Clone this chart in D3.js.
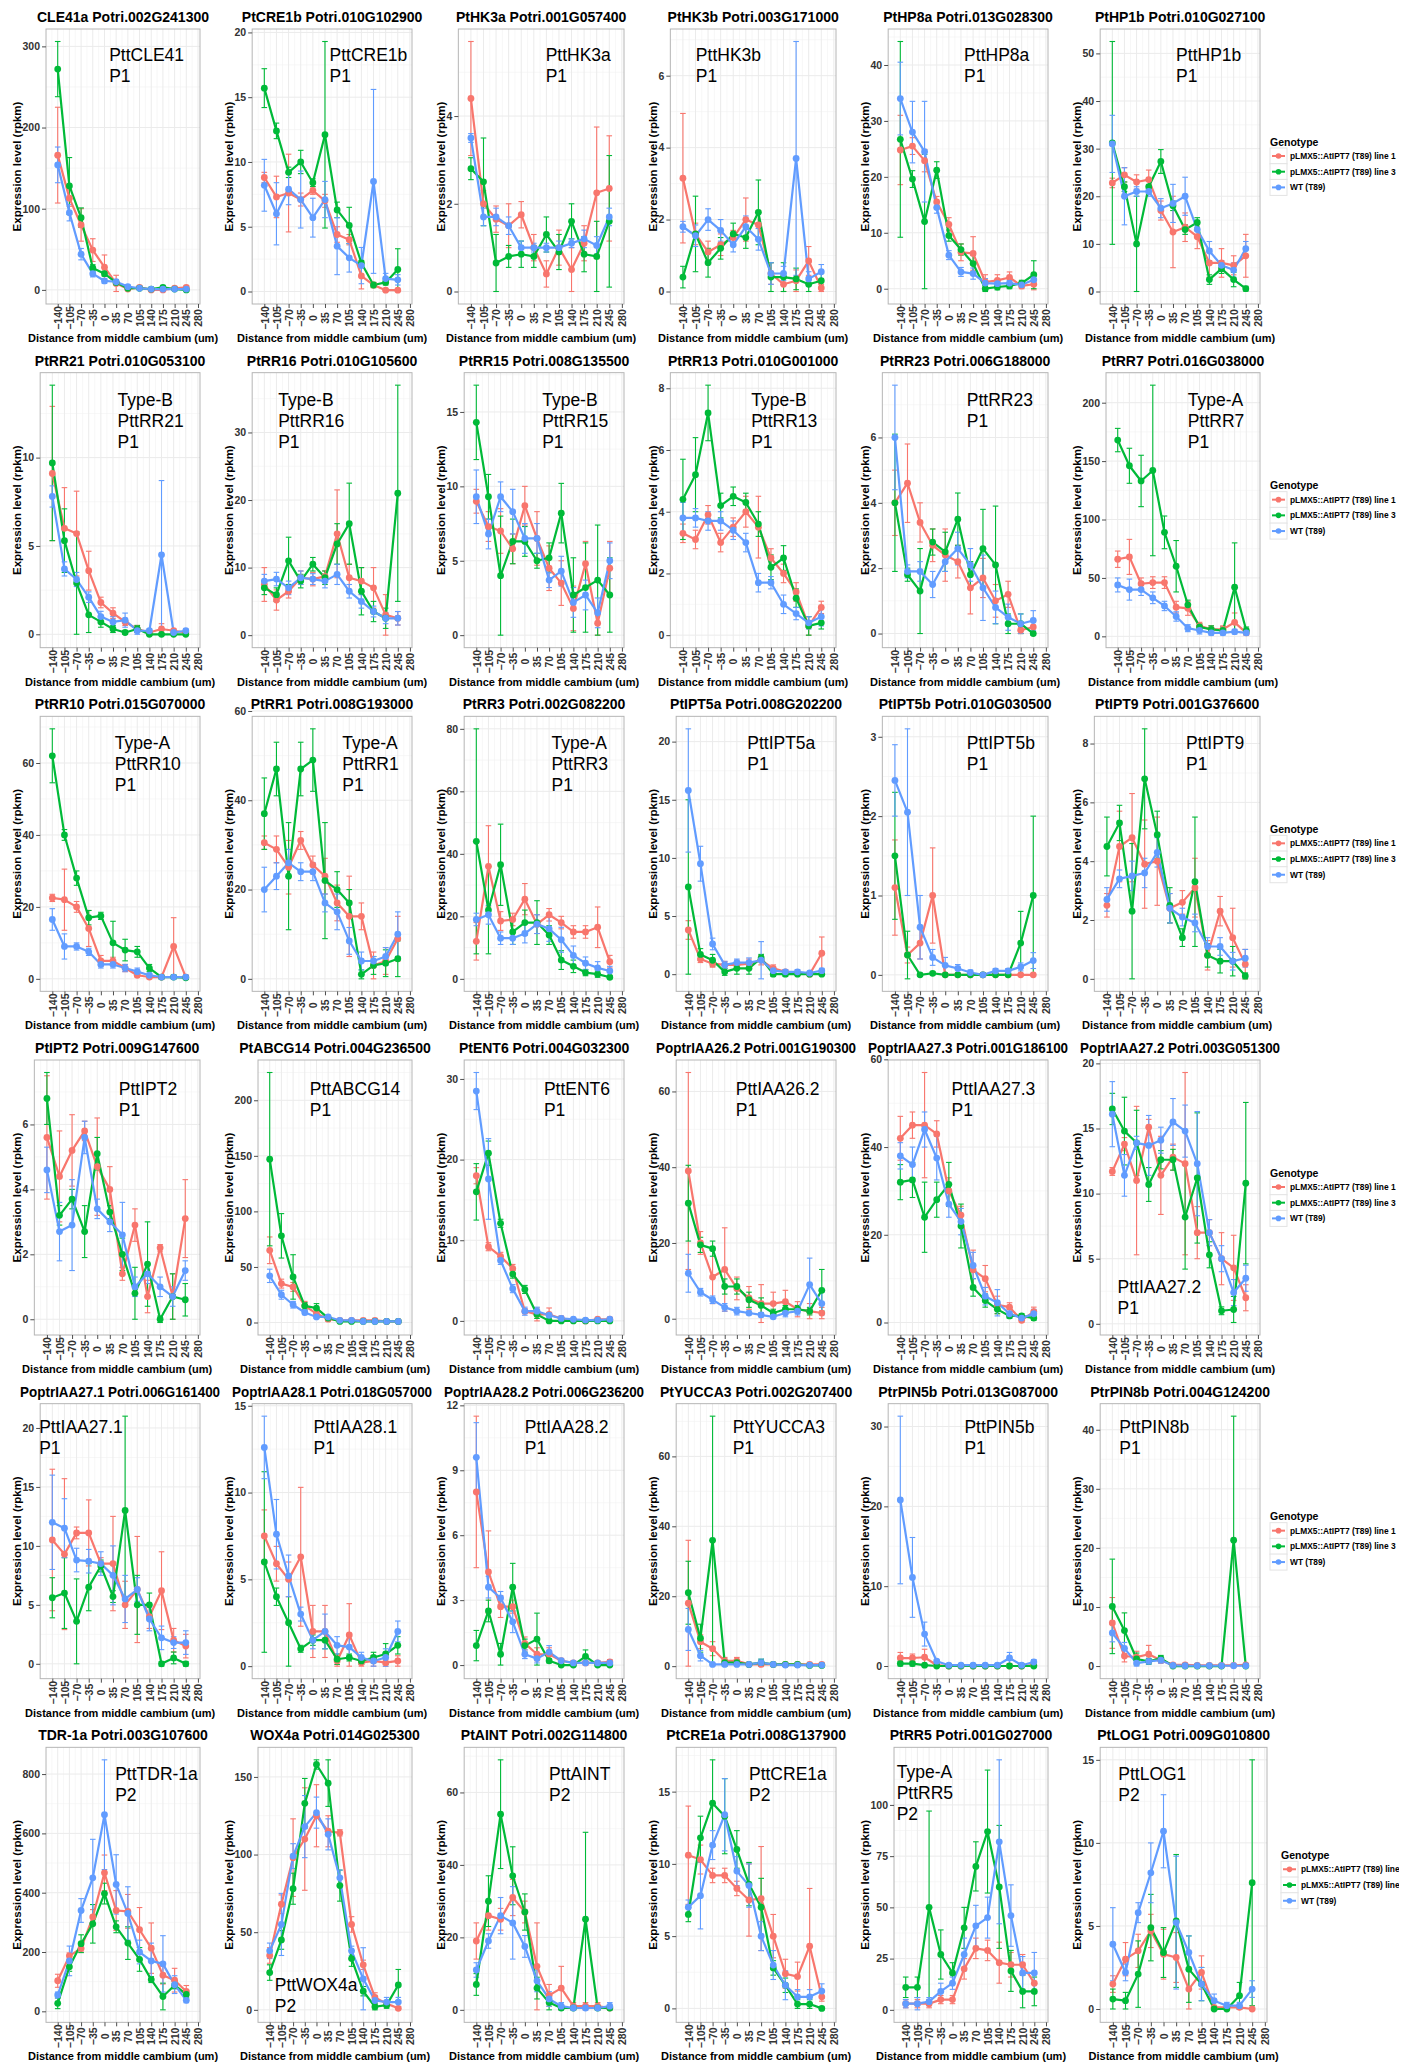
<!DOCTYPE html>
<html><head><meta charset="utf-8">
<script src="https://cdn.jsdelivr.net/npm/d3@7"></script>
<style>
body{margin:0;background:#fff}
svg{display:block}
text{font-family:"Liberation Sans",Arial,Helvetica,sans-serif}
</style>
</head><body>
<svg id="chart" width="1416" height="2062"></svg>
<script>
// ---------------- DATA ----------------
const positions = [-140,-105,-70,-35,0,35,70,105,140,175,210,245];
const xTickLabels = [-140,-105,-70,-35,0,35,70,105,140,175,210,245,280];
const genotypes = ["pLMX5::AtIPT7 (T89) line 1","pLMX5::AtIPT7 (T89) line 3","WT (T89)"];
const legendTitle = "Genotype";
const xAxisTitle = "Distance from middle cambium (um)";
const yAxisTitle = "Expression level (rpkm)";

const titles = [
 "CLE41a Potri.002G241300","PtCRE1b Potri.010G102900","PtHK3a Potri.001G057400","PtHK3b Potri.003G171000","PtHP8a Potri.013G028300","PtHP1b Potri.010G027100",
 "PtRR21 Potri.010G053100","PtRR16 Potri.010G105600","PtRR15 Potri.008G135500","PtRR13 Potri.010G001000","PtRR23 Potri.006G188000","PtRR7 Potri.016G038000",
 "PtRR10 Potri.015G070000","PtRR1 Potri.008G193000","PtRR3 Potri.002G082200","PtIPT5a Potri.008G202200","PtIPT5b Potri.010G030500","PtIPT9 Potri.001G376600",
 "PtIPT2 Potri.009G147600","PtABCG14 Potri.004G236500","PtENT6 Potri.004G032300","PoptrIAA26.2 Potri.001G190300","PoptrIAA27.3 Potri.001G186100","PoptrIAA27.2 Potri.003G051300",
 "PoptrIAA27.1 Potri.006G161400","PoptrIAA28.1 Potri.018G057000","PoptrIAA28.2 Potri.006G236200","PtYUCCA3 Potri.002G207400","PtrPIN5b Potri.013G087000","PtrPIN8b Potri.004G124200",
 "TDR-1a Potri.003G107600","WOX4a Potri.014G025300","PtAINT Potri.002G114800","PtCRE1a Potri.008G137900","PtRR5 Potri.001G027000","PtLOG1 Potri.009G010800"
];

const notes = [
 ["PttCLE41","P1"],["PttCRE1b","P1"],["PttHK3a","P1"],["PttHK3b","P1"],["PttHP8a","P1"],["PttHP1b","P1"],
 ["Type-B","PttRR21","P1"],["Type-B","PttRR16","P1"],["Type-B","PttRR15","P1"],["Type-B","PttRR13","P1"],["PttRR23","P1"],["Type-A","PttRR7","P1"],
 ["Type-A","PttRR10","P1"],["Type-A","PttRR1","P1"],["Type-A","PttRR3","P1"],["PttIPT5a","P1"],["PttIPT5b","P1"],["PttIPT9","P1"],
 ["PttIPT2","P1"],["PttABCG14","P1"],["PttENT6","P1"],["PttIAA26.2","P1"],["PttIAA27.3","P1"],["PttIAA27.2","P1"],
 ["PttIAA27.1","P1"],["PttIAA28.1","P1"],["PttIAA28.2","P1"],["PttYUCCA3","P1"],["PttPIN5b","P1"],["PttPIN8b","P1"],
 ["PttTDR-1a","P2"],["PttWOX4a","P2"],["PttAINT","P2"],["PttCRE1a","P2"],["Type-A","PttRR5","P2"],["PttLOG1","P2"]
];

const yTicks = [
 [0,100,200,300],[0,5,10,15,20],[0,2,4],[0,2,4,6],[0,10,20,30,40],[0,10,20,30,40,50],
 [0,5,10],[0,10,20,30],[0,5,10,15],[0,2,4,6,8],[0,2,4,6],[0,50,100,150,200],
 [0,20,40,60],[0,20,40,60],[0,20,40,60,80],[0,5,10,15,20],[0,1,2,3],[0,2,4,6,8],
 [0,2,4,6],[0,50,100,150,200],[0,10,20,30],[0,20,40,60],[0,20,40,60],[0,5,10,15,20],
 [0,5,10,15,20],[0,5,10,15],[0,3,6,9,12],[0,20,40,60],[0,10,20,30],[0,10,20,30,40],
 [0,200,400,600,800],[0,50,100,150],[0,20,40,60],[0,5,10,15],[0,25,50,75,100],[0,5,10,15]
];

// pLMX5::AtIPT7 (T89) line 1 — means and error half-widths
const line1Mean = [
 [166,113,80,49,28,8,1,3,0,0,2,3],
 [8.8,7.3,7.6,7.1,7.8,7.0,4.4,4.0,1.2,0.5,0.1,0.1],
 [4.4,2.0,1.65,1.5,1.75,1.0,0.4,1.0,0.5,1.1,2.25,2.35],
 [3.15,1.6,1.1,1.3,1.5,2.0,1.85,0.5,0.2,0.3,0.85,0.1],
 [24.8,25.5,22.9,15.5,11.5,6.5,6.3,1.2,1.5,2.0,0.5,0.8],
 [22.8,24.5,23.0,23.5,17.0,12.5,13.5,11.5,6.0,6.0,5.5,7.5],
 [9.1,6.0,5.7,3.6,1.8,1.2,0.7,0.3,0.1,0.3,0.2,0.1],
 [7.5,5.2,6.5,8.5,8.3,8.7,15.0,8.5,8.0,7.0,3.0,2.5],
 [9.0,7.3,7.0,5.8,8.7,6.5,4.5,3.5,1.8,4.8,0.8,4.5],
 [3.3,3.1,3.9,3.0,3.5,4.0,3.5,2.5,2.0,1.4,0.3,0.9],
 [4.0,4.6,3.4,2.7,2.4,2.2,1.4,1.7,1.0,1.2,0.1,0.2],
 [66,68,45,46,46,25,24,9,6,6,12,3],
 [22.5,22,20,14,5,5,3,1,0.5,0.5,9,0.5],
 [30.5,29,25,31,25.5,23,17,14,14,3,4,9],
 [12,36,18.5,19,25.5,17.5,20.5,18,15,15,16.5,5.5],
 [3.8,1.3,0.9,0.8,0.8,0.9,1.2,0.5,0.2,0.1,0.0,1.8],
 [1.1,0.25,0.4,1.0,0,0,0,0,0,0,0,0],
 [2.5,4.5,4.8,3.9,4.0,2.4,2.6,3.1,0.8,2.3,1.4,0.5],
 [5.6,4.4,5.2,5.8,4.7,4.0,1.4,2.9,0.7,2.2,0.7,3.1],
 [65,35,32,15,8,3,2,2,2,2,1,1],
 [18.0,9.2,8.0,6.5,1.2,0.8,0.8,0.3,0.1,0.0,0.2,0.2],
 [39,20,11,13,8,5.5,4,4,4.5,2.5,2,1.5],
 [42,45,45,43,30,24.5,12,10,4,3.5,0.5,2.5],
 [11.7,13.8,11.0,15.1,11.4,12.8,12.3,7.0,7.0,5.0,4.3,2.0],
 [10.5,9.3,11.1,11.1,8.5,8.5,5.0,6.3,4.0,6.2,2.0,1.5],
 [7.5,5.9,5.0,6.3,2.0,2.0,0.3,1.8,0.2,0.3,0.2,0.3],
 [8.0,4.3,2.7,2.7,1.0,0.5,0.5,0.2,0.1,0.1,0.1,0.15],
 [18,7,5,1.5,1.5,0.5,0.5,0.5,0.5,0.5,0.5,0.5],
 [1.0,1.0,1.1,0.1,0,0,0,0,0,0,0,0.1],
 [7.3,1.7,1.5,2.0,1.0,0.2,0.2,0.1,0.1,0.1,0.1,0.2],
 [103,187,212,318,467,340,337,275,213,122,105,67],
 [35,68,98,110,125,115,114,55,29,8,4,1],
 [19,26,25,31,27,12,4,6,1,1,1,0.5],
 [10.6,10.3,9.2,9.2,8.3,7.5,7.6,5.0,2.4,2.2,4.3,0.8],
 [3,3,3,5,5,20,30,29,23,22,22,13],
 [1.5,3.0,3.5,4.7,3.3,3.1,1.2,2.2,0.1,0.1,0.1,0.0]
];
const line1Err = [
 [59,10,20,14,15,10,2,2,1,1,2,2],
 [0.4,1.6,3.0,0.5,0.3,0.5,0.6,0.4,1.0,0.2,0.1,0.1],
 [1.3,0.3,0.3,0.5,0.3,0.3,0.3,0.4,0.5,0.4,1.5,1.2],
 [1.8,0.3,0.3,0.3,0.2,0.6,0.4,0.3,0.2,0.3,0.4,0.1],
 [6.2,1.5,2.0,1.0,1.2,1.5,3.0,1.3,1.0,1.0,0.5,1.0],
 [1.0,1.5,1.5,2.0,2.0,7.5,3.0,2.5,3.0,3.0,2.0,4.5],
 [3.8,2.3,2.4,1.1,0.3,0.3,0.2,0.2,0.1,0.3,0.1,0.1],
 [2.5,1.5,1.0,1.0,1.0,0.8,6.5,2.0,2.0,3.0,3.0,1.0],
 [0.8,1.0,1.5,1.0,1.3,1.8,1.5,1.5,1.5,1.5,0.8,1.8],
 [0.3,0.3,0.3,0.3,0.3,0.5,1.0,0.3,0.3,0.3,0.3,0.2],
 [1.0,1.2,0.6,0.5,0.8,0.5,0.8,0.6,0.5,0.4,0.1,0.2],
 [7,15,5,5,5,5,6,3,3,3,8,2],
 [1,8.5,1.5,5,1.5,1,1,0.5,0.5,0.5,8,0.5],
 [1.5,3,6,2,2,4,4,9,3,3,3,5],
 [6,13,3,2,5,3,2,2,2,2,6.5,2],
 [0.8,0.3,0.3,0.3,0.4,0.4,0.4,0.3,0.2,0.1,0.05,1.4],
 [0.6,0.1,0.2,0.6,0.01,0.01,0.01,0.01,0.01,0.01,0.01,0.01],
 [0.4,1.2,1.5,1.5,1.5,0.5,0.4,1.0,0.5,0.5,1.0,0.5],
 [1.9,1.4,1.1,0.3,1.5,0.7,0.2,0.5,0.5,0.1,0.7,1.2],
 [12,4,4,4,4,2,1,1,1,1,1,1],
 [1.0,0.5,0.5,0.5,0.3,0.8,0.8,0.2,0.1,0.05,0.1,0.2],
 [26,3,7,11,3,3,5,3,3,2,2,1.5],
 [5,3,12,3,3,2,4.5,3,2,1,0.5,1],
 [0.3,0.5,5.7,0.6,3.0,1.0,7.0,2.0,1.0,2.0,2.5,1.0],
 [6.0,6.4,0.5,2.8,0.5,4.0,2.0,4.5,1.0,3.3,1.0,1.0],
 [1.5,1.0,1.0,4.0,1.5,1.5,0.3,1.8,0.2,0.3,0.2,0.3],
 [3.5,1.9,0.5,0.3,0.3,0.3,0.3,0.1,0.1,0.1,0.1,0.1],
 [18,2,2,1,1,0.3,0.3,0.3,0.3,0.3,0.3,0.3],
 [0.7,0.5,1.0,0.1,0.02,0.02,0.02,0.02,0.02,0.02,0.02,0.1],
 [4.3,1.0,1.0,1.5,0.5,0.1,0.1,0.1,0.1,0.1,0.1,0.1],
 [22,10,12,25,60,67,57,75,85,30,40,20],
 [5,6,25,33,20,10,2,5,3,3,2,1],
 [5,4,3,5,3,12,3,6,1,1,1,0.5],
 [3.4,1.0,0.5,0.5,0.5,2.5,3.6,1.5,1.0,1.0,4.0,0.3],
 [2,2,2,2,2,5,5,5,10,6,5,5],
 [0.5,1.0,1.0,1.0,1.5,1.5,1.2,1.0,0.1,0.1,0.1,0.05]
];

// pLMX5::AtIPT7 (T89) line 3
const line3Mean = [
 [272,128,89,27,20,9,2,2,1,3,1,0],
 [15.7,12.4,9.2,10.0,8.4,12.1,6.3,5.1,2.2,0.5,0.7,1.7],
 [2.8,2.5,0.65,0.8,0.85,0.8,1.3,0.9,1.6,0.85,0.8,1.6],
 [0.4,1.6,0.8,1.2,1.6,1.5,2.2,0.4,0.4,0.35,0.2,0.3],
 [26.7,19.6,12.0,21.2,9.5,7.0,4.5,0.0,0.3,0.5,1.0,2.5],
 [31.2,22.0,10.0,22.0,27.3,18.0,13.0,14.5,2.5,4.8,2.5,0.6],
 [9.7,5.3,2.9,1.1,0.7,0.3,0.1,0.3,0.0,0.0,0.0,0.0],
 [7.0,6.0,11.0,8.0,10.5,8.5,13.5,16.5,6.5,3.5,2.5,21.0],
 [14.3,9.3,4.0,6.3,6.3,5.0,5.2,8.2,2.7,3.2,3.7,2.7],
 [4.4,5.2,7.2,4.2,4.5,4.3,3.6,2.2,2.5,1.2,0.3,0.4],
 [4.0,1.8,1.3,2.8,2.5,3.5,1.8,2.6,2.1,0.3,0.3,0.0],
 [168,146,133,142,89,60,27,8,6,5,42,5],
 [62,40,28,17,17.5,10,8,7.5,3,0.5,0.5,0.3],
 [37,47,23,47,49,22,20,17,1,3,3.5,4.5],
 [44,22,36.5,15,18,18,14,6,4,2,1.5,0.5],
 [7.5,1.7,1.2,0.2,0.5,0.5,1.4,0.0,0.0,0.0,0.0,0.0],
 [1.5,0.25,0.0,0.02,0,0,0,0,0,0,0.4,1.0],
 [4.5,5.3,2.3,6.8,4.9,2.5,1.4,3.3,0.8,0.6,0.6,0.1],
 [6.8,3.2,3.7,2.7,5.1,3.3,2.0,0.8,1.7,0.0,0.7,0.6],
 [147,78,41,15,13,4,1,1,1,1,1,1],
 [16.0,20.8,12.1,5.8,3.9,0.8,0.0,0.0,0.0,0.0,0.0,0.0],
 [30.5,19.5,18.5,8.5,8.5,5,3.5,1.5,2.5,2.5,2,7.5],
 [32,32.5,24,28,31.5,22,8,5,3,1.5,1.5,1],
 [16.5,14.8,13.9,10.7,12.6,12.6,8.2,11.2,5.3,1.0,1.1,10.8],
 [5.6,6.0,3.6,6.5,8.3,5.7,13.0,5.0,5.0,0.0,0.5,0.0],
 [6.0,4.0,2.5,1.0,1.5,1.5,0.4,0.5,0.3,0.5,0.7,1.2],
 [0.9,2.5,0.5,3.6,0.9,1.2,0.2,0.0,0.0,0.4,0.0,0.0],
 [21,8,36,1,1,0.5,1,0.5,0.5,0.5,0.2,0.2],
 [0.3,0.3,0.1,0,0,0,0,0,0,0,0,0],
 [10.1,6.0,1.2,0.8,1.3,0,0,0,0,0,21.3,0],
 [27,150,228,295,397,285,230,175,107,50,88,57],
 [24,45,78,133,158,146,80,33,12,2,3,16],
 [7,30,54,37,27,6,2,0.5,0.5,25,0.5,0.5],
 [6.5,11.8,14.2,13.3,11.0,8.6,7.0,2.8,1.6,0.3,0.3,0.0],
 [11,11,50,27,18,40,70,87,60,19,9,9],
 [0.6,0.5,2.1,4.9,3.4,5.3,2.4,1.5,0.0,0.0,0.8,7.6]
];
const line3Err = [
 [34,35,12,4,3,3,1,1,1,2,1,1],
 [1.5,0.6,0.4,0.9,0.3,7.2,0.6,1.4,0.2,0.2,0.2,1.6],
 [0.25,1.0,0.65,0.25,0.3,0.25,0.4,0.4,0.4,0.4,0.8,1.5],
 [0.3,1.05,0.4,0.3,0.3,0.3,0.9,0.4,0.4,0.3,0.2,0.2],
 [17.5,1.5,12.0,1.5,1.0,1.0,1.5,0.5,0.5,0.5,0.5,2.5],
 [21.3,1.0,10.0,1.5,2.5,1.0,1.0,1.0,1.0,1.0,1.5,0.5],
 [4.4,1.8,2.9,1.0,0.3,0.2,0.1,0.2,0.05,0.05,0.05,0.05],
 [1.0,1.0,3.5,1.0,1.0,1.0,3.0,6.0,3.5,1.5,1.5,16.0],
 [2.5,1.5,4.0,1.5,1.0,0.5,1.0,2.0,2.5,3.0,3.7,2.5],
 [1.3,1.2,0.9,0.4,0.3,0.3,0.4,0.4,0.4,0.3,0.3,0.2],
 [2.1,0.2,1.3,0.4,0.6,0.8,0.4,1.2,1.8,0.3,0.3,0.05],
 [10,15,22,73,14,22,4,3,3,3,38,3],
 [7.5,1.5,2,2,1,6,3,1.5,1,0.5,0.5,0.3],
 [8,6,12,6,7,13,4,3,1,2,3,4],
 [36,14,13,4,4,7,3,3,2,1,1,0.5],
 [7.5,0.5,0.5,0.3,0.5,0.5,0.3,0.2,0.2,0.05,0.05,0.05],
 [0.8,0.3,0.02,0.02,0.01,0.01,0.01,0.01,0.01,0.01,0.4,1.0],
 [1.0,0.6,2.3,1.7,0.8,0.6,0.3,2.2,0.4,0.4,0.5,0.1],
 [0.8,0.3,0.3,0.8,0.5,0.2,0.5,0.8,1.3,0.1,0.7,0.5],
 [78,20,20,3,4,2,1,1,1,1,1,1],
 [3.5,1.5,0.5,0.5,0.5,0.5,0.2,0.1,0.1,0.1,0.1,0.1],
 [10,2,2,2,2,2,2,1,1,1,1,5.5],
 [4,4,8,4,5,5,2,1.5,1,0.5,0.5,0.5],
 [1.2,2.6,2.5,1.3,0.7,0.8,4.0,5.0,1.0,0.3,1.0,6.2],
 [1.7,3.0,3.6,2.0,0.5,0.5,8.0,2.5,1.0,0.2,0.5,0.2],
 [5.2,0.5,2.5,0.2,0.3,0.5,0.3,0.2,0.2,0.3,0.6,0.5],
 [0.7,0.5,0.5,1.1,0.3,1.2,0.1,0.05,0.05,0.3,0.05,0.05],
 [9,4,35.5,1,0.5,0.3,1,0.3,0.3,0.3,0.2,0.2],
 [0.3,0.3,0.1,0.02,0.02,0.02,0.02,0.02,0.02,0.02,0.02,0.02],
 [8.0,3.0,1.0,0.5,0.5,0.02,0.02,0.02,0.02,0.02,21.0,0.02],
 [18,15,30,65,35,20,55,40,10,45,12,12],
 [5,6,10,16,3,15,10,5,3,2,2,10],
 [3,7,15,8,5,3,2,0.5,0.5,24,0.5,0.5],
 [0.5,1.5,3.0,2.6,1.3,1.5,2.0,0.5,0.5,0.3,0.3,0.1],
 [5,5,47,12,5,10,12,30,30,10,8,7],
 [0.6,0.5,2.0,2.0,1.5,4.0,2.0,1.0,0.05,0.05,0.8,7.4]
];

// WT (T89)
const wtMean = [
 [154,95,44,20,11,10,4,2,1,1,1,1],
 [8.2,6.0,7.9,7.1,5.7,7.1,3.5,2.6,2.0,8.5,1.0,0.9],
 [3.5,1.7,1.7,1.5,1.0,1.0,1.0,1.0,1.1,1.2,1.05,1.7],
 [1.8,1.55,2.0,1.7,1.3,1.8,1.45,0.5,0.5,3.7,0.35,0.55],
 [34.0,28.0,24.5,14.5,6.0,3.0,2.7,1.0,0.9,1.0,0.7,1.6],
 [31.0,20.0,21.0,21.0,17.5,18.5,20.0,13.0,8.5,5.5,4.5,9.0],
 [7.8,3.7,3.1,2.1,1.0,0.7,0.8,0.2,0.2,4.5,0.1,0.2],
 [8.0,8.3,7.0,8.5,8.3,8.0,9.0,6.5,5.0,3.5,2.5,2.5],
 [9.3,6.8,9.3,8.3,6.5,6.5,3.7,4.3,2.2,2.7,1.5,5.0],
 [3.8,3.8,3.7,3.7,3.4,3.0,1.7,1.7,1.0,0.7,0.4,0.6],
 [6.0,1.9,1.9,1.5,2.2,2.6,2.1,1.4,0.8,0.5,0.3,0.4],
 [44,40,40,33,26,17,7,5,3,3,4,3],
 [16.5,9,9,7.5,4,4,3,2,1,0.5,0.5,0.5],
 [20,23,26,24,24,17,15,8.5,4,4,5,10],
 [19,20.5,13,13,14.5,17.5,16,12.5,7.5,5,3.5,2.5],
 [15.8,9.5,2.6,0.8,1.0,1.0,1.2,0.3,0.2,0.2,0.1,0.3],
 [2.45,2.05,0.6,0.22,0.12,0.08,0.03,0.0,0.05,0.05,0.1,0.18],
 [2.7,3.4,3.5,3.6,4.3,2.4,2.1,1.9,1.1,1.1,0.6,0.7],
 [4.6,2.7,2.9,5.6,3.4,3.0,2.6,1.0,1.4,1.0,0.7,1.5],
 [42,25,16,9,5,5,2,2,1,1,1,1],
 [28.5,17.6,7.5,4.0,1.2,1.2,0.7,0.3,0.2,0.1,0.1,0.2],
 [12,7,5,3,2,1.5,1,0.5,1.5,2,9,4],
 [38,36,44,37.5,27,23,13,6,4.5,2,1,2],
 [16.1,11.4,13.9,13.7,14.1,15.5,14.8,12.3,7.0,5.0,2.4,3.5],
 [12.0,11.5,8.8,8.7,8.5,7.5,5.5,6.3,3.8,2.2,1.8,1.8],
 [12.6,7.6,5.2,3.0,1.5,2.0,1.2,1.1,0.5,0.3,0.5,2.0],
 [9.6,3.6,3.1,2.0,0.5,0.3,0.6,0.2,0.1,0.1,0.1,0.1],
 [10.5,3,0.5,0.5,0.5,0.5,1,0.5,0.3,0.3,0.3,0.3],
 [20.8,11.1,4.0,0.6,0.1,0.1,0.1,0.1,0.1,1.0,0.1,0.5],
 [5.6,3.0,0.5,0.8,1.0,0.1,0.05,0.05,0.05,0.05,0.05,0.05],
 [55,170,340,450,663,428,330,200,170,160,90,37],
 [38,55,99,118,127,113,85,38,20,6,5,5],
 [11,19,26,24,17.5,8,3,1,0.5,0.5,0.5,1],
 [7.0,7.8,11.3,13.4,9.5,8.5,5.0,3.0,1.6,0.8,0.8,1.2],
 [3,3,4,9,13,27,41,45,82,46,18,18],
 [3.9,2.2,5.8,8.2,10.7,5.2,3.4,1.5,0.5,0.2,0.2,1.2]
];
const wtErr = [
 [22,10,7,4,3,2,2,1,1,1,1,1],
 [2.0,2.4,1.2,2.2,1.5,1.4,2.2,1.1,1.4,7.1,0.4,0.4],
 [0.1,0.2,0.2,0.2,0.15,0.1,0.1,0.15,0.1,0.2,0.2,0.2],
 [0.15,0.3,0.3,0.3,0.2,0.3,0.3,0.3,0.2,3.25,0.2,0.2],
 [6.5,5.5,9.0,1.0,0.8,0.8,1.0,0.8,0.5,0.5,0.5,1.0],
 [6.0,6.0,1.0,1.0,2.0,4.0,4.0,1.5,2.0,1.0,1.5,1.5],
 [0.6,0.4,0.4,0.3,0.3,0.3,0.4,0.2,0.1,4.2,0.1,0.1],
 [1.0,1.0,1.0,1.0,0.8,1.0,1.5,1.0,1.0,0.8,0.8,1.0],
 [1.8,1.0,1.0,1.5,1.0,1.0,0.5,1.0,1.0,1.0,1.0,1.2],
 [0.5,0.3,0.3,0.3,0.3,0.3,0.3,0.2,0.3,0.2,0.2,0.3],
 [1.6,0.2,0.3,0.4,0.3,0.5,0.5,1.0,0.5,0.4,0.3,0.3],
 [6,9,5,5,4,4,3,3,2,2,2,2],
 [3,3.5,1,1,1,1,1,1,0.5,0.5,0.5,0.5],
 [5,3,3,2,2,2,4,3,2,1,2,5],
 [2,3,2,2,3,3,4,4,3,2,2,1.5],
 [5.3,1.5,0.5,0.3,0.3,0.4,1.6,0.3,0.2,0.2,0.1,0.2],
 [0.45,1.05,0.4,0.1,0.1,0.05,0.03,0.01,0.03,0.03,0.05,0.1],
 [0.4,0.3,0.5,0.5,0.5,0.5,0.3,0.3,0.3,0.3,0.3,0.3],
 [0.7,0.9,1.4,0.5,0.3,0.3,1.0,0.3,0.3,0.3,0.3,0.3],
 [6,4,3,2,1,1,1,1,1,1,1,1],
 [2.3,5.0,0.5,0.5,0.5,0.5,0.3,0.3,0.1,0.1,0.1,0.1],
 [5,1,1,1,1,0.5,0.5,0.5,1,1,7,3],
 [3,4,4,5,3,3,3,2,3,1,0.5,1],
 [2.5,1.6,0.5,2.3,1.0,1.8,2.0,4.0,1.0,1.0,1.0,1.0],
 [4.0,2.5,1.0,1.0,1.0,2.5,2.0,1.0,1.0,1.0,0.5,1.0],
 [1.8,2.0,1.2,0.4,0.5,1.0,0.5,0.7,0.3,0.3,0.5,0.6],
 [1.6,0.5,0.3,0.5,0.2,0.2,0.3,0.1,0.05,0.05,0.05,0.05],
 [6,1.5,0.3,0.3,0.3,0.3,1,0.3,0.2,0.2,0.2,0.2],
 [10.5,5.0,1.5,0.2,0.05,0.05,0.05,0.05,0.05,0.7,0.05,0.3],
 [1.5,1.0,0.5,0.5,0.5,0.05,0.05,0.05,0.05,0.05,0.05,0.05],
 [10,50,40,130,185,100,90,40,60,95,30,8],
 [5,20,8,20,10,10,5,3,20,3,3,3],
 [2,2,5,10,3,3,2,1,0.5,0.5,0.5,1],
 [0.5,2.3,1.0,2.5,1.0,1.5,1.0,1.0,1.0,0.5,0.5,0.5],
 [2,3,2,4,3,8,10,10,40,15,8,10],
 [2.2,0.5,0.6,1.8,2.2,4.0,1.0,1.0,0.4,0.2,0.2,0.5]
];

// ---------------- LAYOUT / STYLE ----------------
const colors = ["#F8766D","#00BA38","#619CFF"];
// annotation anchor: x in data units (left edge), dy: px of first baseline below plot top
const noteAnchor = [
 [14,32],[48,32],[68,32],[-104,32],[44,32],[44,32],
 [48,33],[-100,33],[50,33],[50,33],[60,33],[70,33],
 [40,33],[85,33],[77,33],[30,33],[60,33],[80,33],
 [60,35],[-20,35],[55,35],[-3,35],[8,35],[-125,233],
 [-178,29],[2,29],[0,29],[-12,29],[45,29],[-120,29],
 [32,33],[-125,244],[70,33],[35,33],[-167,31],[-125,33]
];

const svg = d3.select("#chart");
const W = 1416, H = 2062, rowH = H/6, colW = 212;
const ctx = document.createElement("canvas").getContext("2d");
function textW(s, font){ ctx.font = font; return ctx.measureText(s).width; }
const tickFont = 'bold 10.5px "Liberation Sans"';
const titleFont = 'bold 14px "Liberation Sans"';

function minors(ticks, lo, hi){
  const step = ticks[1]-ticks[0];
  const ext = [ticks[0]-step, ...ticks, ticks[ticks.length-1]+step];
  const out = [];
  for(let k=0;k<ext.length-1;k++){ const m=(ext[k]+ext[k+1])/2; if(m>=lo && m<=hi) out.push(m); }
  return out;
}

for(let i=0;i<36;i++){
  const r = Math.floor(i/6), c = i%6;
  const x0 = c*colW, y0 = r*rowH;
  const top = y0+29, bottom = y0+304;
  const right = x0 + (c===5 && r===5 ? 207 : 200);
  const labW = d3.max(yTicks[i], t => textW(String(t), tickFont));
  const left = x0 + 23.5 + labW + 5;

  const series = [
    {m: line1Mean[i], e: line1Err[i], col: colors[0]},
    {m: line3Mean[i], e: line3Err[i], col: colors[1]},
    {m: wtMean[i],    e: wtErr[i],    col: colors[2]}
  ];
  let lo = Infinity, hi = -Infinity;
  series.forEach(s => s.m.forEach((v,k) => { lo = Math.min(lo, v - s.e[k]); hi = Math.max(hi, v + s.e[k]); }));
  const R = hi - lo;
  const y = d3.scaleLinear().domain([lo - 0.05*R, hi + 0.05*R]).range([bottom, top]);
  const x = d3.scaleLinear().domain([-175, 286]).range([left, right]);

  const g = svg.append("g");
  g.append("rect").attr("x",left).attr("y",top).attr("width",right-left).attr("height",bottom-top).attr("fill","#fff");
  const yd = y.domain(), xd = x.domain();
  g.selectAll(null).data(minors(yTicks[i], yd[0], yd[1])).join("line")
    .attr("x1",left).attr("x2",right).attr("y1",d=>y(d)).attr("y2",d=>y(d))
    .attr("stroke","#f2f2f2").attr("stroke-width",0.6);
  g.selectAll(null).data(minors(xTickLabels, xd[0], xd[1])).join("line")
    .attr("y1",top).attr("y2",bottom).attr("x1",d=>x(d)).attr("x2",d=>x(d))
    .attr("stroke","#f2f2f2").attr("stroke-width",0.6);
  g.selectAll(null).data(yTicks[i]).join("line")
    .attr("x1",left).attr("x2",right).attr("y1",d=>y(d)).attr("y2",d=>y(d))
    .attr("stroke","#ebebeb").attr("stroke-width",1);
  g.selectAll(null).data(xTickLabels).join("line")
    .attr("y1",top).attr("y2",bottom).attr("x1",d=>x(d)).attr("x2",d=>x(d))
    .attr("stroke","#ebebeb").attr("stroke-width",1);

  // error bars
  series.forEach(s => {
    const eg = g.append("g").attr("stroke", s.col).attr("stroke-width", 1.1).attr("fill","none");
    positions.forEach((p,k) => {
      const xp = x(p), ya = y(s.m[k]-s.e[k]), yb = y(s.m[k]+s.e[k]);
      eg.append("line").attr("x1",xp).attr("x2",xp).attr("y1",ya).attr("y2",yb);
      eg.append("line").attr("x1",xp-2.8).attr("x2",xp+2.8).attr("y1",ya).attr("y2",ya);
      eg.append("line").attr("x1",xp-2.8).attr("x2",xp+2.8).attr("y1",yb).attr("y2",yb);
    });
  });
  const lineGen = d3.line().x((d,k)=>x(positions[k])).y(d=>y(d));
  series.forEach(s => {
    g.append("path").datum(s.m).attr("d", lineGen).attr("fill","none")
      .attr("stroke", s.col).attr("stroke-width", 2.2).attr("stroke-linejoin","round");
  });
  series.forEach(s => {
    g.selectAll(null).data(s.m).join("circle")
      .attr("cx",(d,k)=>x(positions[k])).attr("cy",d=>y(d)).attr("r",3.4).attr("fill",s.col);
  });
  g.append("rect").attr("x",left).attr("y",top).attr("width",right-left).attr("height",bottom-top)
    .attr("fill","none").attr("stroke","#b5b5b5").attr("stroke-width",1);

  // axes
  const ya = g.append("g").attr("transform",`translate(${left},0)`)
    .call(d3.axisLeft(y).tickValues(yTicks[i]).tickSize(4).tickPadding(2).tickFormat(d3.format("d")));
  ya.select(".domain").remove();
  ya.selectAll(".tick line").attr("stroke","#4d4d4d");
  ya.selectAll(".tick text").attr("fill","#333").style("font",tickFont);

  const xa = g.append("g").attr("transform",`translate(0,${bottom})`)
    .call(d3.axisBottom(x).tickValues(xTickLabels).tickSize(4).tickFormat(d3.format("d")));
  xa.select(".domain").remove();
  xa.selectAll(".tick line").attr("stroke","#4d4d4d");
  xa.selectAll(".tick text").attr("fill","#333").style("font",tickFont)
    .attr("y",0).attr("dy","0.35em").attr("text-anchor","middle")
    .attr("transform","translate(0,14) rotate(-90)");

  // titles
  const tt = g.append("text").attr("x",(left+right)/2).attr("y",y0+22).attr("text-anchor","middle")
    .style("font",titleFont).attr("fill","#000").text(titles[i]);
  if (textW(titles[i], titleFont) > 200) tt.attr("textLength",200).attr("lengthAdjust","spacingAndGlyphs");
  g.append("text").attr("transform",`translate(${x0+16.5},${(top+bottom)/2}) rotate(-90)`)
    .attr("text-anchor","middle").attr("dy","0.35em")
    .style("font","bold 11.5px 'Liberation Sans'").attr("fill","#000").text(yAxisTitle);
  g.append("text").attr("x",(left+right)/2).attr("y",y0+342).attr("text-anchor","middle")
    .style("font","bold 11px 'Liberation Sans'").attr("fill","#000").text(xAxisTitle);

  // annotation
  const [ax, ady] = noteAnchor[i];
  notes[i].forEach((t,k) => {
    g.append("text").attr("x", x(ax)).attr("y", top + ady + k*21)
      .style("font","17.5px 'Liberation Sans'").attr("fill","#000").text(t);
  });

  // legend
  if(c===5){
    const lx = right + (r===5 ? 14 : 10);
    const mid = (top+bottom)/2 - (r===5 ? 5 : 0);
    const lg = g.append("g");
    if(r===5){
      const cid = "clipLeg";
      svg.append("clipPath").attr("id",cid).append("rect").attr("x",lx-2).attr("y",mid-60).attr("width",1401-lx).attr("height",120);
      lg.attr("clip-path",`url(#${cid})`);
    }
    lg.append("text").attr("x",lx).attr("y",mid-21).style("font","bold 10.5px 'Liberation Sans'").attr("fill","#000").text(legendTitle);
    genotypes.forEach((lab,k) => {
      const cy = mid - 10.5 + k*15.7;
      lg.append("rect").attr("x",lx).attr("y",cy-8).attr("width",17).attr("height",16)
        .attr("fill","#fff").attr("stroke","#e3e3e3").attr("stroke-width",1);
      lg.append("line").attr("x1",lx+2).attr("x2",lx+15).attr("y1",cy).attr("y2",cy)
        .attr("stroke",colors[k]).attr("stroke-width",2);
      lg.append("circle").attr("cx",lx+8.5).attr("cy",cy).attr("r",2.8).attr("fill",colors[k]);
      lg.append("text").attr("x",lx+20).attr("y",cy+3).style("font","bold 8.4px 'Liberation Sans'")
        .attr("fill","#000").text(lab);
    });
  }
}
</script>
</body></html>
